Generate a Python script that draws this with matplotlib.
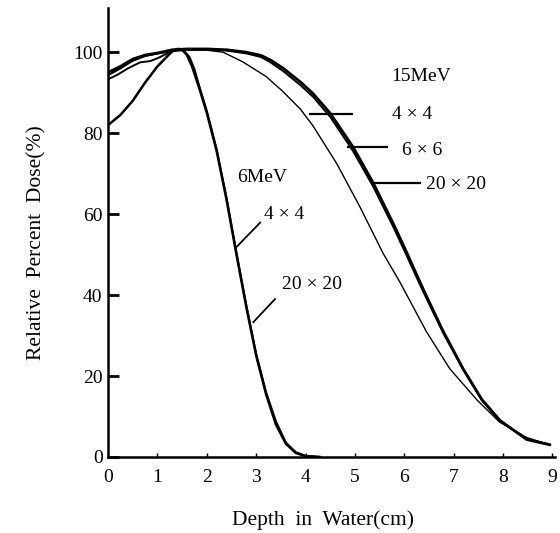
import matplotlib
matplotlib.use("Agg")
import matplotlib.pyplot as plt

plt.rcParams['font.family'] = ['Liberation Serif', 'DejaVu Serif']

# 6 MeV, 4x4 field
x6_4 = [0, 0.25, 0.5, 0.75, 1.0, 1.2, 1.3, 1.4, 1.5, 1.6, 1.7, 1.85, 2.0, 2.2, 2.4, 2.6, 2.8, 3.0, 3.2, 3.4, 3.6, 3.8, 4.0, 4.3]
y6_4 = [82, 84.5, 88, 92.5, 96.5, 99, 100.2, 100.8, 100.7, 99.2, 96.5, 91, 85, 75.5, 63.5, 50, 37, 25, 15.5, 8, 3.3, 1.0, 0.2, 0]

# 6 MeV, 20x20 field
x6_20 = [0, 0.2, 0.4, 0.65, 0.85, 1.0, 1.2, 1.35, 1.45, 1.55, 1.65, 1.75, 1.85, 2.0, 2.2, 2.4, 2.6, 2.8, 3.0, 3.2, 3.4, 3.6, 3.8, 4.0, 4.3]
y6_20 = [93.3, 94.5, 96, 97.5, 97.8, 98.5, 99.7, 100.4, 100.6, 100.2, 98.8, 95.8, 91.5, 85.5, 76, 64, 50.5, 37.5, 25.5, 16, 8.8, 3.6, 1.2, 0.3, 0]

# 15 MeV, 20x20 field
x15_20 = [0, 0.25, 0.5, 0.75, 1.0, 1.3, 1.6, 2.0, 2.4, 2.8, 3.1, 3.3, 3.55, 3.9, 4.15, 4.5, 4.96, 5.37, 5.77, 6.0, 6.38, 6.78, 7.19, 7.57, 7.94, 8.48, 8.95]
y15_20 = [95, 96.5, 98.3, 99.3, 99.8, 100.6, 100.8, 100.8, 100.6, 100, 99.2, 98, 96, 92.6, 89.8, 84.9, 76.6, 67.7, 57.8, 51.8, 41.5, 31.2, 21.8, 14.2, 9, 4.3, 3]

# 15 MeV, 6x6 field
x15_6 = [0, 0.25, 0.5, 0.75, 1.0, 1.3, 1.6, 2.0, 2.4, 2.8, 3.1, 3.3, 3.55, 3.9, 4.15, 4.5, 4.96, 5.37, 5.77, 6.0, 6.38, 6.78, 7.19, 7.57, 7.94, 8.48, 8.95]
y15_6 = [94.3, 96, 98, 99.1, 99.7, 100.4, 100.7, 100.7, 100.4, 99.7, 98.8, 97.4, 95.3, 91.8, 89.0, 84.0, 75.6, 66.8, 57.0, 51.0, 40.9, 30.8, 21.6, 14.0, 8.9, 4.4, 3.1]

# 15 MeV, 4x4 field
x15_4 = [0, 0.25, 0.5, 0.75, 1.0, 1.3, 1.6, 2.0, 2.33, 2.73, 3.2, 3.54, 3.89, 4.15, 4.63, 5.1, 5.57, 5.91, 6.45, 6.92, 7.47, 7.93, 8.48, 8.95]
y15_4 = [94.5, 96, 97.8, 99, 99.6, 100.2, 100.5, 100.5, 100, 97.6, 94, 90.3, 86.0, 81.8, 72.5, 61.8, 50.3, 43.2, 30.9, 21.8, 14.1, 8.6, 4.8, 3]

xticks = [0, 1, 2, 3, 4, 5, 6, 7, 8, 9]
yticks = [0, 20, 40, 60, 80, 100]

fig = plt.figure(figsize=(5.6, 5.33), dpi=100)
ax = fig.add_axes([0.193, 0.1426, 0.798, 0.843])

kw = dict(color='black', solid_capstyle='round', solid_joinstyle='round')
ax.plot(x6_4, y6_4, lw=1.8, **kw)
ax.plot(x6_20, y6_20, lw=1.4, **kw)
ax.plot(x15_20, y15_20, lw=2.0, **kw)
ax.plot(x15_6, y15_6, lw=1.4, **kw)
ax.plot(x15_4, y15_4, lw=1.0, **kw)

ax.set_xlim(0, 9.05)
ax.set_ylim(0, 111)
ax.set_xticks(xticks)
ax.set_yticks(yticks)
ax.tick_params(axis='y', direction='in', length=8, width=2.0, labelsize=14, pad=4)
ax.tick_params(axis='x', direction='in', length=3, width=1.0, labelsize=14, pad=9)

for s in ['top', 'right']:
    ax.spines[s].set_visible(False)
for s in ['left', 'bottom']:
    ax.spines[s].set_linewidth(1.8)

ax.set_xlabel('Depth  in  Water(cm)', fontsize=15.5)
ax.set_ylabel('Relative  Percent  Dose(%)', fontsize=15.5)
ax.xaxis.set_label_coords(0.481, -0.118)
ax.yaxis.set_label_coords(-0.137, 0.477)

# 15 MeV annotations
ax.text(6.34, 94.1, '15MeV', fontsize=14, ha='center', va='center')
ax.text(6.15, 84.7, '4 × 4', fontsize=14, ha='center', va='center')
ax.text(6.35, 75.8, '6 × 6', fontsize=14, ha='center', va='center')
ax.text(7.04, 67.2, '20 × 20', fontsize=14, ha='center', va='center')
ax.plot([4.09, 4.94], [84.7, 84.7], color='black', lw=1.6)
ax.plot([4.86, 5.65], [76.6, 76.6], color='black', lw=1.6)
ax.plot([5.34, 6.32], [67.7, 67.7], color='black', lw=1.6)

# 6 MeV annotations
ax.text(3.12, 69, '6MeV', fontsize=14, ha='center', va='center')
ax.text(3.56, 59.8, '4 × 4', fontsize=14, ha='center', va='center')
ax.text(4.13, 42.5, '20 × 20', fontsize=14, ha='center', va='center')
ax.plot([2.61, 3.08], [52.0, 57.9], color='black', lw=1.3)
ax.plot([2.94, 3.38], [33.3, 39.0], color='black', lw=1.3)

fig.savefig('out.png', dpi=100)
